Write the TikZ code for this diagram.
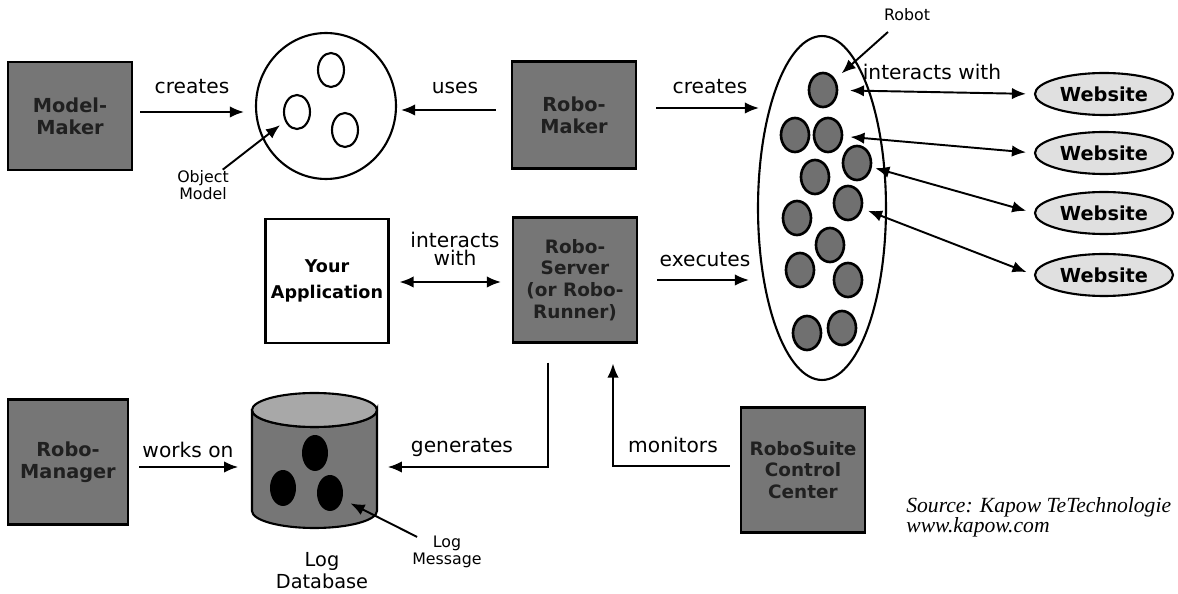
\documentclass[tikz,border=0pt]{standalone}
\usepackage{fontspec}
\setmainfont{DejaVu Sans}
\newfontfamily\srcfont{Liberation Serif}
\usetikzlibrary{calc}
\usetikzlibrary{shapes.geometric}
\usetikzlibrary{arrows.meta}
\definecolor{boxgray}{RGB}{118,118,118}
\definecolor{boxtext}{RGB}{32,32,32}
\definecolor{dotgray}{RGB}{112,112,112}
\definecolor{webgray}{RGB}{224,224,224}
\definecolor{cyltop}{RGB}{168,168,168}
\tikzstyle{tool} = [rectangle, draw, line width=1.2pt, fill=boxgray, text=boxtext,
    align=center, font=\bfseries\fontsize{11}{12.5}\selectfont,
    minimum width=2.48cm, minimum height=2.5cm, inner sep=0pt]
\tikzstyle{app} = [rectangle, draw, line width=1.2pt, fill=white, align=center,
    font=\bfseries\fontsize{10}{15}\selectfont,
    minimum width=2.46cm, minimum height=2.48cm, inner sep=0pt]
\tikzstyle{word} = [font=\fontsize{11.5}{10.5}\selectfont, align=center]
\tikzstyle{small} = [font=\fontsize{9}{9.5}\selectfont, align=center]
\tikzstyle{robot} = [ellipse, draw, line width=1.5pt, fill=dotgray,
    minimum width=0.56cm, minimum height=0.68cm, inner sep=0pt]
\tikzstyle{oval} = [ellipse, draw, line width=1.2pt,
    minimum width=0.52cm, minimum height=0.68cm, inner sep=0pt]
\tikzstyle{msg} = [ellipse, fill=black,
    minimum width=0.52cm, minimum height=0.72cm, inner sep=0pt]
\tikzstyle{website} = [ellipse, draw, line width=1.2pt, fill=webgray,
    minimum width=2.76cm, minimum height=0.84cm, inner sep=0pt,
    font=\bfseries\fontsize{11}{11}\selectfont]
\tikzstyle{line} = [draw, line width=1.1pt, -{Latex[length=8pt,width=6.5pt]}]
\tikzstyle{dline} = [draw, line width=1.1pt,
    {Latex[length=8pt,width=6.5pt]}-{Latex[length=8pt,width=6.5pt]}]

\begin{document}
\begin{tikzpicture}[x=0.02cm, y=-0.02cm]
    \useasboundingbox (0,0) rectangle (1178,594);
    % Place nodes
    \node [tool, minimum height=2.16cm] (modelmaker) at (70,116) {Model-\\Maker};
    \node [tool, minimum height=2.14cm] (robomaker) at (574,115) {Robo-\\Maker};
    \node [app] (yourapp) at (327,281) {Your\\Application};
    \node [tool, font=\bfseries\fontsize{10.5}{12.3}\selectfont] (roboserver) at (575,280) {Robo-\\Server\\(or Robo-\\Runner)};
    \node [tool, minimum width=2.4cm] (robomgr) at (68,462) {Robo-\\Manager};
    \node [tool, font=\bfseries\fontsize{10.5}{12.3}\selectfont] (suite) at (803,470) {RoboSuite\\Control\\Center};

    % Object model
    \node [ellipse, draw, line width=1.2pt, minimum width=2.8cm, minimum height=2.92cm] (objmodel) at (326,106) {};
    \node [oval] (o1) at (331,70) {};
    \node [oval] (o2) at (297,112) {};
    \node [oval] (o3) at (345,130) {};
    \node [small] (objlbl) at (203,185) {Object\\Model};

    % Robots and websites
    \node [ellipse, draw, line width=1.2pt, minimum width=2.56cm, minimum height=6.88cm] (swarm) at (822,208) {};
    \foreach \n/\x/\y in {1/823/90, 2/795/135, 3/828/135, 4/857/163, 5/815/177, 6/848/203,
                          7/797/218, 8/830/245, 9/800/270, 10/848/280, 11/807/333, 12/842/328}
        \node [robot] (r\n) at (\x,\y) {};
    \node [small] (robotlbl) at (907,15) {Robot};
    \foreach \n/\y in {1/94, 2/153, 3/213, 4/275}
        \node [website] (w\n) at (1104,\y) {Website};

    % Log database
    \node [minimum width=2.5cm, minimum height=2.7cm] (logdb) at (314,460) {};
    \filldraw [fill=boxgray, line width=1.2pt] (252,410) -- (252,511)
        arc [start angle=180, end angle=360, x radius=1.25cm, y radius=0.34cm] -- (377,410)
        arc [start angle=0, end angle=-180, x radius=1.25cm, y radius=0.34cm] -- cycle;
    \filldraw [fill=cyltop, line width=1.2pt] (314.5,410) ellipse [x radius=1.25cm, y radius=0.34cm];
    \node [msg] (m1) at (315,453) {};
    \node [msg] (m2) at (283,488) {};
    \node [msg] (m3) at (330,493) {};
    \node [font=\fontsize{11}{12.5}\selectfont, align=center] (dblbl) at (322,571) {Log\\Database};
    \node [small] (loglbl) at (447,552) {Log\\Message};

    % Source
    \node [font=\srcfont\itshape\fontsize{12.3}{11.3}\selectfont, align=left, anchor=west, inner sep=0pt]
        (source) at (906,517) {Source: Kapow TeTechnologie\\www.kapow.com};

    % Draw edges
    \path [line] ($(modelmaker.east)+(7,-4)$) -- ($(objmodel.west)+(-11,6)$);
    \path [line] ($(robomaker.west)+(-15,-5)$) -- ($(objmodel.east)+(4,4)$);
    \path [line] ($(robomaker.east)+(19,-7)$) -- ($(swarm.west)+(2,-100)$);
    \path [line] ($(roboserver.east)+(19,0)$) -- ($(swarm.west)+(-8,72)$);
    \path [dline] ($(yourapp.east)+(10,1)$) -- ($(roboserver.west)+(-11,2)$);
    \path [line] ($(robomgr.east)+(10,5)$) -- ($(logdb.west)+(-13,7)$);
    \path [line] ($(roboserver.south)+(-27,19)$) |- ($(logdb.east)+(11,7)$);
    \path [line] ($(suite.west)+(-10,-4)$) -| ($(roboserver.south)+(38,20)$);
    \path [line, shorten <=0.5cm, shorten >=0.43cm] (objlbl.center) -- (o2.center);
    \path [line, shorten <=0.51cm, shorten >=0.5cm] (robotlbl.center) -- (r1.center);
    \path [line, shorten <=0.67cm, shorten >=0.46cm] (loglbl.center) -- (m3.center);
    \path [dline, shorten <=0.54cm, shorten >=0.16cm] (r1.center) -- (w1.west);
    \path [dline, shorten <=0.45cm, shorten >=0.16cm] (r3.center) -- (w2.west);
    \path [dline, shorten <=0.38cm, shorten >=0.16cm] (r4.center) -- (w3.west);
    \path [dline, shorten <=0.43cm, shorten >=0.16cm] (r6.center) -- (w4.west);

    % Edge labels
    \node [word] (lcreates) at (192,87) {creates};
    \node [word] (luses) at (455,88) {uses};
    \node [word] (lcreates2) at (710,87) {creates};
    \node [word] (linteracts) at (932,72) {interacts with};
    \node [word] (linteracts2) at (455,249) {interacts\\with};
    \node [word] (lexecutes) at (705,260) {executes};
    \node [word] (lworks) at (188,450) {works on};
    \node [word] (lgenerates) at (462,448) {generates};
    \node [word] (lmonitors) at (673,445) {monitors};
\end{tikzpicture}
\end{document}
